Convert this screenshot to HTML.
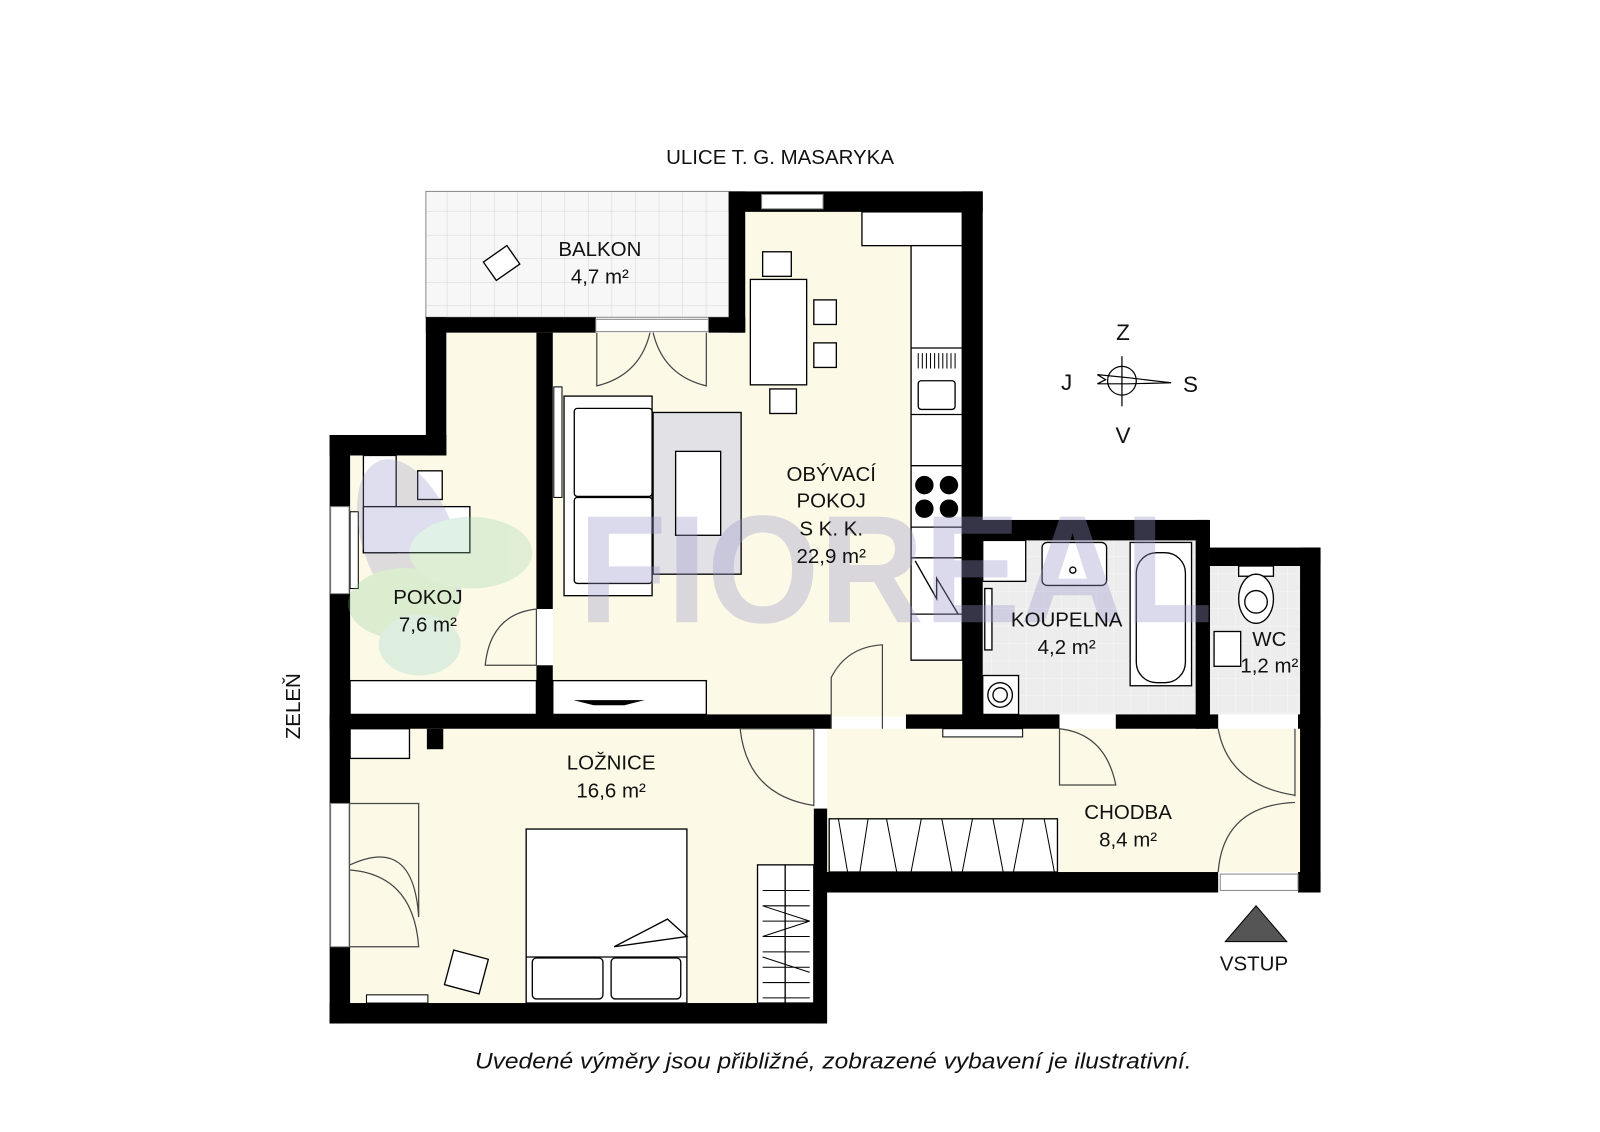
<!DOCTYPE html>
<html><head><meta charset="utf-8"><style>
html,body{margin:0;padding:0;background:#fff;}
svg{display:block;}
text{font-family:"Liberation Sans",sans-serif;fill:#111;}
</style></head><body>
<svg width="1600" height="1132" viewBox="0 0 1563 1106" preserveAspectRatio="none" xmlns="http://www.w3.org/2000/svg">
<defs>
<pattern id="tile" width="23" height="23" patternUnits="userSpaceOnUse"><rect width="23" height="23" fill="#f7f7f7"/><path d="M23 0V23H0" fill="none" stroke="#d4d4d4" stroke-width="1"/></pattern>
<pattern id="tile2" width="17" height="17" patternUnits="userSpaceOnUse"><rect width="17" height="17" fill="#ededed"/><path d="M17 0V17H0" fill="none" stroke="#f8f8f8" stroke-width="1"/></pattern>
</defs>
<rect width="1563" height="1106" fill="#fff"/>
<!-- floors -->
<rect x="416" y="187" width="296" height="123" fill="url(#tile)" stroke="#888" stroke-width="1"/>
<path d="M728 207H940V700H540V325H728Z" fill="#fcfae6"/>
<path d="M342 445H436V325H524V700H342Z" fill="#fcfae6"/>
<rect x="342" y="712" width="453" height="268" fill="#fcfae6"/>
<rect x="808" y="712" width="462" height="140" fill="#fcfae6"/>
<rect x="960" y="528" width="208" height="170" fill="url(#tile2)"/>
<rect x="1182" y="553" width="88" height="145" fill="url(#tile2)"/>
<!-- walls -->
<g fill="#000">
<rect x="712" y="187" width="248" height="20"/>
<rect x="712" y="187" width="16" height="138"/>
<rect x="940" y="187" width="20" height="513"/>
<rect x="416" y="310" width="166" height="15"/>
<rect x="692" y="310" width="36" height="15"/>
<rect x="416" y="310" width="20" height="135"/>
<rect x="322" y="425" width="114" height="20"/>
<rect x="322" y="425" width="20" height="575"/>
<rect x="524" y="325" width="16" height="270"/>
<rect x="524" y="650" width="16" height="50"/>
<rect x="322" y="698" width="490" height="14"/>
<rect x="885" y="698" width="150" height="14"/>
<rect x="1090" y="698" width="100" height="14"/>
<rect x="1268" y="698" width="22" height="14"/>
<rect x="940" y="508" width="240" height="20"/>
<rect x="1168" y="508" width="14" height="204"/>
<rect x="1182" y="535" width="108" height="18"/>
<rect x="1270" y="535" width="20" height="337"/>
<rect x="795" y="790" width="13" height="210"/>
<rect x="795" y="852" width="395" height="20"/>
<rect x="1268" y="852" width="22" height="20"/>
<rect x="322" y="980" width="483" height="20"/>
<rect x="417" y="712" width="16" height="20"/>
</g>
<!-- windows -->
<g fill="#fff" stroke="#888" stroke-width="1">
<rect x="744" y="190" width="60" height="14"/>
<rect x="323" y="495" width="18" height="85"/>
<rect x="323" y="785" width="18" height="140"/>
<rect x="1192" y="854" width="76" height="16"/>
<rect x="582" y="312" width="110" height="12"/>
</g>
<!-- radiators -->
<g fill="#fff" stroke="#000" stroke-width="1">
<rect x="342" y="500" width="8" height="75"/>
<rect x="541" y="378" width="8" height="108"/>
<rect x="921" y="712" width="78" height="8"/>
<rect x="358" y="972" width="60" height="8"/>
</g>
<!-- furniture -->
<g fill="#fff" stroke="#000" stroke-width="1.3">
<rect x="476" y="246" width="28" height="22" transform="rotate(-35 490 257)"/>
<rect x="842" y="207" width="98" height="33"/>
<rect x="890" y="240" width="50" height="405"/>
<line x1="890" y1="340" x2="940" y2="340"/><line x1="890" y1="405" x2="940" y2="405"/>
<line x1="890" y1="455" x2="940" y2="455"/><line x1="890" y1="515" x2="940" y2="515"/>
<line x1="890" y1="545" x2="940" y2="545"/><line x1="890" y1="600" x2="940" y2="600"/>
<rect x="897" y="372" width="36" height="28" rx="3"/>
<path d="M894 548L915 585V565L936 600" fill="none"/>
<rect x="745" y="246" width="28" height="24"/>
<rect x="733" y="273" width="55" height="103"/>
<rect x="795" y="293" width="22" height="24"/>
<rect x="795" y="335" width="22" height="24"/>
<rect x="752" y="380" width="26" height="24"/>
<rect x="551" y="387" width="86" height="195"/>
<rect x="561" y="399" width="76" height="86" rx="3"/>
<rect x="561" y="486" width="76" height="84" rx="3"/>
<rect x="638" y="403" width="86" height="158" fill="#e2e2e6"/>
<rect x="660" y="441" width="44" height="82"/>
<rect x="355" y="445" width="32" height="95"/>
<rect x="355" y="495" width="104" height="45"/>
<rect x="408" y="460" width="24" height="28"/>
<rect x="342" y="665" width="182" height="33"/>
<rect x="540" y="665" width="150" height="33"/>
<rect x="342" y="712" width="58" height="29"/>
<rect x="514" y="810" width="157" height="170"/>
<line x1="514" y1="935" x2="671" y2="935"/>
<rect x="520" y="936" width="69" height="40" rx="4"/><rect x="597" y="936" width="68" height="40" rx="4"/>
<path d="M600 925L652 898L671 915Z"/>
<rect x="438" y="932" width="35" height="35" transform="rotate(15 455 950)"/>
<rect x="740" y="845" width="55" height="135"/>
<line x1="767" y1="845" x2="767" y2="980"/>
<rect x="810" y="800" width="223" height="52"/>
<rect x="1018" y="530" width="63" height="42" rx="5"/>
<circle cx="1048" cy="557" r="3"/>
<rect x="1104" y="530" width="60" height="140"/>
<rect x="1110" y="540" width="48" height="127" rx="20"/>
<rect x="960" y="660" width="35" height="38"/>
<circle cx="977" cy="679" r="12"/><circle cx="977" cy="679" r="7"/>
<rect x="962" y="575" width="7" height="60"/>
<rect x="960" y="528" width="42" height="40"/>
<rect x="1186" y="617" width="26" height="34"/>
<rect x="1210" y="553" width="34" height="10"/>
<ellipse cx="1227" cy="585" rx="17" ry="24"/>
<circle cx="1227" cy="588" r="11"/>
</g>
<g stroke="#000" stroke-width="1">
<path d="M897 345v30M901 345v30M905 345v30M909 345v30M913 345v30M917 345v30M921 345v30M925 345v30M929 345v30M933 345v30" transform="scale(1,0.5) translate(0,345)"/>
<path d="M819 800L828 852M848 800L840 852M866 800L876 852M900 800L890 852M920 800L930 852M950 800L940 852M970 800L980 852M1000 800L990 852M1020 800L1030 852"/>
<path d="M745 870h46M745 885h46M745 900h46M745 915h46M745 930h46M745 945h46M745 960h46M745 975h46M745 885L791 900M745 915L791 900M745 935L791 950"/>
</g>
<g fill="#000"><circle cx="903" cy="474" r="9"/><circle cx="927" cy="474" r="9"/><circle cx="903" cy="497" r="9"/><circle cx="927" cy="497" r="9"/>
<path d="M560 684h70l-20 5h-30z"/></g>
<!-- doors -->
<g fill="none" stroke="#444" stroke-width="1.2">
<path d="M583 325v52q42 -10 52 -52"/><path d="M690 325v52q-42 -10 -52 -52"/>
<path d="M474 650h50v-55q-45 5 -50 55z"/>
<path d="M812 712v-50q15 -30 50 -32v82"/>
<path d="M723 712h72v75q-65 -10 -72 -75"/>
<path d="M1035 712v55h55q-10 -50 -55 -55"/>
<path d="M1190 712q10 55 75 65"/><path d="M1265 712v66"/>
<path d="M1190 852q5 -65 75 -68"/>
<path d="M342 785h67v111q-5 -80 -67 -51"/>
<path d="M342 850q62 5 67 75h-67"/>
</g>
<!-- watermark on top -->
<g opacity="0.28">
<ellipse cx="400" cy="530" rx="45" ry="85" fill="#8f8cc4" transform="rotate(-20 400 530)"/>
<ellipse cx="395" cy="590" rx="55" ry="35" fill="#8ccf97"/>
<ellipse cx="460" cy="540" rx="60" ry="35" fill="#93d0aa"/>
<ellipse cx="410" cy="630" rx="40" ry="30" fill="#8fd0cc"/>
</g>
<text x="565" y="608" font-size="150" font-weight="bold" style="fill:#9b98cc" opacity="0.35" textLength="620" lengthAdjust="spacingAndGlyphs">FIOREAL</text>
<!-- labels -->
<g font-size="20" text-anchor="middle">
<text x="762" y="160">ULICE T. G. MASARYKA</text>
<text x="586" y="250">BALKON</text><text x="586" y="277">4,7 m²</text>
<text x="812" y="470">OBÝVACÍ</text><text x="812" y="496">POKOJ</text><text x="812" y="523">S K. K.</text><text x="812" y="550">22,9 m²</text>
<text x="418" y="590">POKOJ</text><text x="418" y="617">7,6 m²</text>
<text x="1042" y="612">KOUPELNA</text><text x="1042" y="639">4,2 m²</text>
<text x="1240" y="631">WC</text><text x="1240" y="657">1,2 m²</text>
<text x="597" y="752">LOŽNICE</text><text x="597" y="779">16,6 m²</text>
<text x="1102" y="800">CHODBA</text><text x="1102" y="827">8,4 m²</text>
<text x="1225" y="948">VSTUP</text>
<text x="0" y="0" transform="translate(293 690) rotate(-90)">ZELEŇ</text>
<text x="1097" y="332" font-size="22">Z</text><text x="1097" y="433" font-size="22">V</text>
<text x="1042" y="381" font-size="22">J</text><text x="1163" y="383" font-size="22">S</text>
</g>
<text x="464" y="1044" font-size="22" font-style="italic" textLength="700" lengthAdjust="spacingAndGlyphs">Uvedené výměry jsou přibližné, zobrazené vybavení je ilustrativní.</text>
<path d="M1197 920L1227 885L1257 920Z" fill="#555" stroke="#000"/>
<g fill="none" stroke="#000" stroke-width="1.2">
<circle cx="1096" cy="372" r="14"/><line x1="1096" y1="348" x2="1096" y2="397"/>
<path d="M1072 366l8 5-8 4h30l42-1-42-5z"/>
</g>
</svg>
</body></html>
